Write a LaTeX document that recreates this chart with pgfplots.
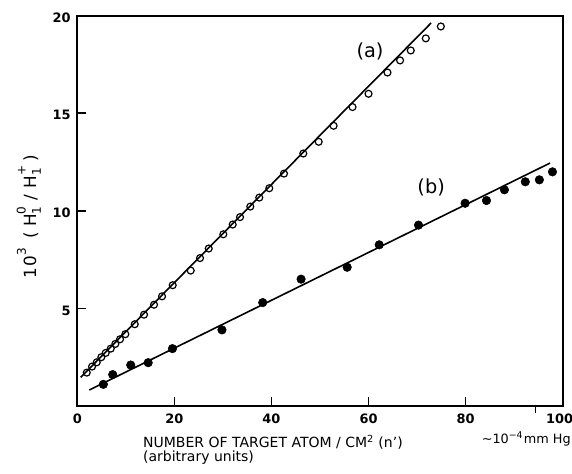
\documentclass[border=0pt]{standalone}
\usepackage{fontspec}
\setmainfont{DejaVu Sans}
\usepackage{pgfplots}
\pgfplotsset{compat=1.18}

% H with a stacked subscript 1 and a superscript charge
\newcommand\Hion[1]{H\rlap{\raisebox{0.62em}{\fontsize{9}{9}\selectfont #1}}\raisebox{-0.28em}{\fontsize{9}{9}\selectfont 1}\hspace{0.25em}}

% (a): open circles, (b): filled circles
\pgfplotstableread{
x y
1.94 1.71
3.03 2.02
4.00 2.24
4.94 2.50
5.85 2.72
6.88 2.94
7.83 3.18
8.80 3.42
9.89 3.68
11.83 4.19
13.74 4.68
15.80 5.19
17.45 5.62
19.65 6.19
23.36 6.94
25.28 7.58
27.07 8.07
30.08 8.80
32.01 9.30
33.52 9.68
35.64 10.22
37.49 10.68
39.55 11.16
42.58 11.91
46.56 12.94
49.73 13.54
52.80 14.36
56.70 15.32
60.00 16.00
63.90 17.09
66.50 17.71
68.70 18.22
71.80 18.84
74.90 19.45
}\seriesA

\pgfplotstableread{
x y
5.36 1.11
7.29 1.61
11.0 2.10
14.6 2.22
19.6 2.94
29.8 3.90
38.2 5.30
46.1 6.50
55.6 7.11
62.2 8.26
70.3 9.27
79.9 10.39
84.3 10.53
88.0 11.08
92.3 11.49
95.2 11.59
97.9 12.00
}\seriesB

\begin{document}
\begin{tikzpicture}
\begin{axis}[
  name=ax,
  width=364pt, height=292.7pt, scale only axis,
  xmin=0, xmax=100, ymin=0, ymax=20,
  xtick={0,20,40,60,80,100},
  xticklabels={0,20,40,60,80,100\hspace*{4.6pt}},
  ytick={5,10,15,20},
  tick align=inside,
  xtick pos=bottom, ytick pos=left,
  major tick length=6.5pt,
  axis line style={line width=1.3pt},
  every tick/.style={black, line width=1.2pt},
  /pgf/number format/assume math mode=true,
  every tick label/.append style={font=\bfseries\fontsize{9.7}{10}\selectfont},
  xticklabel style={anchor=base, yshift=-13.5pt},
  yticklabel style={xshift=-1.5pt, yshift=-1.5pt},
  ylabel={1\hspace{0.1em}0\raisebox{0.6em}{\fontsize{9}{9}\selectfont 3}\hspace{0.55em}(\hspace{0.3em}\Hion{0}\hspace{0.15em}/\hspace{0.35em}\Hion{+}\hspace{0.15em})},
  ylabel style={font=\fontsize{12.6}{13}\selectfont, at={(rel axis cs:-0.085,0.485)}, anchor=base},
  clip=false,
]
% fitted straight lines
\addplot[black, line width=1.2pt] coordinates {(0.7,1.47) (72.9,19.63)};
\addplot[black, line width=1.2pt] coordinates {(2.47,0.82) (97.4,12.45)};
% measured points
\addplot[only marks, mark=o, mark size=2.6pt, mark options={line width=0.9pt, fill=white}] table {\seriesA};
\addplot[only marks, mark=*, mark size=3.2pt] table {\seriesB};

\node[font=\fontsize{14.5}{15}\selectfont] at (axis cs:60.3,18.15) {(a)};
\node[font=\fontsize{14.5}{15}\selectfont] at (axis cs:72.9,11.2) {(b)};

% pressure marker under the axis
\draw[line width=1pt] (axis cs:94.4,0) -- ++(0,-5pt);
\node[font=\fontsize{9.6}{10}\selectfont, inner sep=0pt, anchor=base east] at ([yshift=-28.5pt]axis cs:101.7,0)
  {\textasciitilde10\raisebox{0.45em}{\fontsize{7}{8}\selectfont −4}\hspace{0.1em}mm Hg};

% axis title in two lines
\node[font=\fontsize{10.5}{11}\selectfont, inner sep=0pt, anchor=base west]
  at ([yshift=-31.5pt]axis cs:13.5,0) {NUMBER OF TARGET ATOM / CM\textsuperscript{2} (n')};
\node[font=\fontsize{10.5}{11}\selectfont, inner sep=0pt, anchor=base west]
  at ([yshift=-42pt]axis cs:13.5,0) {(arbitrary units)};
\end{axis}
\pgfresetboundingbox
\path ([xshift=-58pt, yshift=-51pt]ax.south west) rectangle ([xshift=7pt, yshift=11.8pt]ax.north east);
\end{tikzpicture}
\end{document}
